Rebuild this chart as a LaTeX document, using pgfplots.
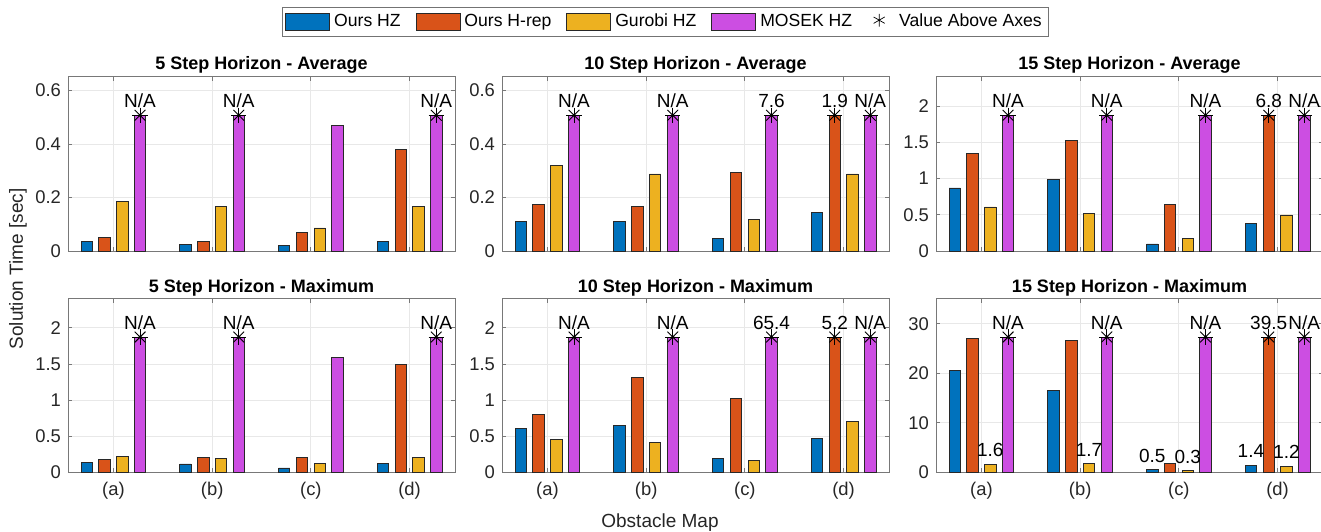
\documentclass[border=0pt]{standalone}
\usepackage{fontspec}
\setmainfont{Liberation Sans}
\usepackage{pgfplots}
\usepackage{pgfplotstable}
\pgfplotsset{compat=1.18}

\definecolor{cB}{RGB}{0,114,189}
\definecolor{cO}{RGB}{217,83,25}
\definecolor{cY}{RGB}{237,177,32}
\definecolor{cM}{RGB}{204,78,226}
\definecolor{edge}{RGB}{40,40,40}
\definecolor{axc}{RGB}{120,120,120}

% ---------- data (capped bars drawn at 0.78*ymax) ----------
\pgfplotstableread{
x b o y m
1 0.034 0.050 0.185 0.507
2 0.026 0.035 0.165 0.507
3 0.020 0.069 0.086 0.470
4 0.034 0.379 0.168 0.507
}\tA
\pgfplotstableread{
x y t
1.27 0.507 N/A
2.27 0.507 N/A
4.27 0.507 N/A
}\sA

\pgfplotstableread{
x b o y m
1 0.110 0.174 0.321 0.507
2 0.110 0.168 0.288 0.507
3 0.048 0.293 0.118 0.507
4 0.143 0.507 0.288 0.507
}\tB
\pgfplotstableread{
x y t
1.27 0.507 N/A
2.27 0.507 N/A
3.27 0.507 7.6
3.91 0.507 1.9
4.27 0.507 N/A
}\sB

\pgfplotstableread{
x b o y m
1 0.869 1.343 0.607 1.872
2 0.985 1.527 0.516 1.872
3 0.097 0.648 0.171 1.872
4 0.386 1.872 0.497 1.872
}\tC
\pgfplotstableread{
x y t
1.27 1.872 N/A
2.27 1.872 N/A
3.27 1.872 N/A
3.91 1.872 6.8
4.27 1.872 N/A
}\sC

\pgfplotstableread{
x b o y m
1 0.133 0.180 0.216 1.872
2 0.115 0.202 0.193 1.872
3 0.060 0.202 0.124 1.590
4 0.124 1.494 0.202 1.872
}\tD
\pgfplotstableread{
x y t
1.27 1.872 N/A
2.27 1.872 N/A
4.27 1.872 N/A
}\sD

\pgfplotstableread{
x b o y m
1 0.603 0.797 0.451 1.872
2 0.650 1.314 0.410 1.872
3 0.188 1.028 0.160 1.872
4 0.465 1.872 0.700 1.872
}\tE
\pgfplotstableread{
x y t
1.27 1.872 N/A
2.27 1.872 N/A
3.27 1.872 65.4
3.91 1.872 5.2
4.27 1.872 N/A
}\sE

\pgfplotstableread{
x b o y m
1 20.58 26.96 1.6 27.3
2 16.60 26.63 1.7 27.3
3 0.50 1.74 0.3 27.3
4 1.40 27.3 1.2 27.3
}\tF
\pgfplotstableread{
x y t
1.27 27.3 N/A
2.27 27.3 N/A
3.27 27.3 N/A
3.91 27.3 39.5
4.27 27.3 N/A
}\sF
\pgfplotstableread{
x y t
1.09 1.6 1.6
2.09 1.7 1.7
2.73 0.5 0.5
3.09 0.3 0.3
3.73 1.4 1.4
4.09 1.2 1.2
}\lF

\pgfplotsset{
  panel/.style={
    scale only axis, width=193.5pt,
    xmin=0.54, xmax=4.46, xtick={1,2,3,4},
    ymin=0, clip=false,
    grid=major, major grid style={black!9, line width=0.4pt},
    axis line style={axc, line width=0.5pt},
    tick style={axc, line width=0.4pt}, major tick length=2.2pt,
    tick align=inside,
    /pgf/number format/assume math mode=true,
    ticklabel style={font=\fontsize{9.2}{10}\selectfont, text=black!85},
    xticklabel style={yshift=-1.5pt},
  },
  toprow/.style={panel, height=87pt, xticklabels={},
    title style={font=\bfseries\fontsize{9}{10}\selectfont, at={(0.5,1)}, anchor=base, yshift=-2.5pt}},
  botrow/.style={panel, height=86.7pt, xticklabels={(a),(b),(c),(d)},
    title style={font=\bfseries\fontsize{9}{10}\selectfont, at={(0.5,1)}, anchor=base, yshift=-3pt}},
}

\newcommand{\bars}[1]{%
  \addplot[ybar, bar width=0.115, bar shift=-0.27, fill=cB, draw=edge, line width=0.4pt, forget plot] table[x=x,y=b]{#1};
  \addplot[ybar, bar width=0.115, bar shift=-0.09, fill=cO, draw=edge, line width=0.4pt, forget plot] table[x=x,y=o]{#1};
  \addplot[ybar, bar width=0.115, bar shift=0.09, fill=cY, draw=edge, line width=0.4pt, forget plot] table[x=x,y=y]{#1};
  \addplot[ybar, bar width=0.115, bar shift=0.27, fill=cM, draw=edge, line width=0.4pt, forget plot] table[x=x,y=m]{#1};
}
\newcommand{\stars}[1]{%
  \addplot[only marks, mark=+, mark size=3.8pt, black, mark options={line width=0.45pt}, forget plot] table[x=x,y=y]{#1};
  \addplot[only marks, mark=x, mark size=3.8pt, black, mark options={line width=0.45pt}, forget plot] table[x=x,y=y]{#1};
  \addplot[only marks, mark=*, mark size=0.6pt, black, forget plot] table[x=x,y=y]{#1};
  \addlabels{#1}
}
\newcommand{\addlabels}[1]{%
  \addplot[only marks, mark=none, forget plot, point meta=explicit symbolic,
    nodes near coords,
    nodes near coords style={anchor=base, yshift=3.8pt, inner sep=0pt, font=\fontsize{9.5}{10}\selectfont, text=black}]
    table[x=x,y=y,meta=t]{#1};
}

\begin{document}
\begin{tikzpicture}
\path[use as bounding box] (0,0) rectangle (660.5pt,265.5pt);

% ---- top row ----
\begin{axis}[toprow, at={(34pt,140pt)}, anchor=south west,
  ymax=0.65, ytick={0,0.2,0.4,0.6},
  title={5 Step Horizon - Average},
  legend columns=5,
  legend style={at={(1.544,1.318)}, anchor=center, draw=black!55, line width=0.4pt,
    font=\fontsize{8.8}{10}\selectfont, inner sep=1.3pt,
    /tikz/every even column/.append style={column sep=5.5pt}},
  ]
  \bars{\tA}
  \stars{\sA}
  \addlegendimage{legend image code/.code={\draw[fill=cB, draw=edge, line width=0.4pt] (0pt,-4.25pt) rectangle (22pt,4.25pt);}}
  \addlegendimage{legend image code/.code={\draw[fill=cO, draw=edge, line width=0.4pt] (0pt,-4.25pt) rectangle (22pt,4.25pt);}}
  \addlegendimage{legend image code/.code={\draw[fill=cY, draw=edge, line width=0.4pt] (0pt,-4.25pt) rectangle (22pt,4.25pt);}}
  \addlegendimage{legend image code/.code={\draw[fill=cM, draw=edge, line width=0.4pt] (0pt,-4.25pt) rectangle (22pt,4.25pt);}}
  \addlegendimage{legend image code/.code={\path[draw=none, fill=none] (0pt,-1pt) rectangle (14pt,1pt);
     \node[inner sep=0pt, draw=none] at (6pt,0pt) {\tikz\draw[black, line width=0.35pt] plot[mark=asterisk, mark size=3.2pt] coordinates {(0,0)};};}}
  \legend{Ours HZ, Ours H-rep, Gurobi HZ, MOSEK HZ, Value Above Axes}
\end{axis}

\begin{axis}[toprow, at={(251pt,140pt)}, anchor=south west,
  ymax=0.65, ytick={0,0.2,0.4,0.6},
  title={10 Step Horizon - Average}]
  \bars{\tB}
  \stars{\sB}
\end{axis}

\begin{axis}[toprow, at={(468pt,140pt)}, anchor=south west,
  ymax=2.4, ytick={0,0.5,1,1.5,2},
  title={15 Step Horizon - Average}]
  \bars{\tC}
  \stars{\sC}
\end{axis}

% ---- bottom row ----
\begin{axis}[botrow, at={(34pt,29.35pt)}, anchor=south west,
  ymax=2.4, ytick={0,0.5,1,1.5,2},
  title={5 Step Horizon - Maximum}]
  \bars{\tD}
  \stars{\sD}
\end{axis}

\begin{axis}[botrow, at={(251pt,29.35pt)}, anchor=south west,
  ymax=2.4, ytick={0,0.5,1,1.5,2},
  title={10 Step Horizon - Maximum}]
  \bars{\tE}
  \stars{\sE}
\end{axis}

\begin{axis}[botrow, at={(468pt,29.35pt)}, anchor=south west,
  ymax=35, ytick={0,10,20,30},
  title={15 Step Horizon - Maximum}]
  \bars{\tF}
  \stars{\sF}
  \addlabels{\lF}
\end{axis}

\node[rotate=90, font=\fontsize{9.5}{10}\selectfont, text=black!85] at (9pt,131pt) {Solution Time [sec]};
\node[anchor=base, font=\fontsize{9.5}{10}\selectfont, text=black!85] at (330pt,2pt) {Obstacle Map};
\end{tikzpicture}
\end{document}
